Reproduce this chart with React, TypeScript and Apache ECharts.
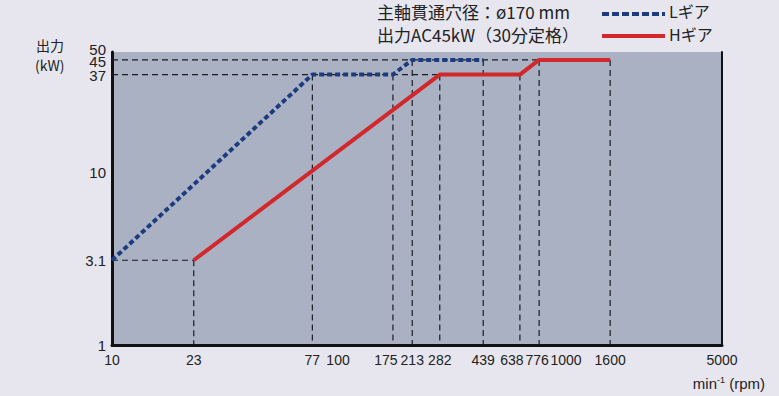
import React, { useEffect, useRef } from "react";
import * as echarts from "echarts";

// Spindle output: L gear and H gear, power (kW) against spindle speed (min^-1)
const lGearRpm = [10, 77, 175, 213, 439];
const lGearKw = [3.1, 37, 37, 45, 45];
const hGearRpm = [23, 282, 638, 776, 1600];
const hGearKw = [3.1, 37, 37, 45, 45];

const xTickValues = [10, 23, 77, 100, 175, 213, 282, 439, 638, 776, 1000, 1600, 5000];
const yTickValues = [1, 3.1, 10, 37, 50];
// labelled on an overlay axis, since it sits right under the 50 label
const yTickValuesCrowded = [45];

const X_MIN = 10;
const X_MAX = 5000;
const Y_MIN = 1;
const Y_MAX = 50;

const NUM_FONT = '"Liberation Sans", Roboto, sans-serif';
const JP_FONT = '"Noto Sans CJK JP", "Noto Sans", sans-serif';
const TEXT = "#222";
const L_COLOR = "#1d3c80";
const H_COLOR = "#d2282b";

// Small nudges (px) for tick labels that sit close together.
const speedLabelNudge: Record<string, number> = { "175": -7, "638": -8, "776": -2, "1000": 2 };
const powerLabelNudge: Record<string, number> = { "50": -3, "45": 2, "37": 1 };

const toPoints = (xs: number[], ys: number[]) => xs.map((x, i) => [x, ys[i]]);

// Dashed guides: a drop line under every corner of the curves, and a
// horizontal line from the power axis to where the H gear reaches each level.
function buildGuides(): number[][][] {
  const segs: number[][][] = [];
  const corners = [...toPoints(lGearRpm, lGearKw), ...toPoints(hGearRpm, hGearKw)];
  corners.forEach(([x, y]) => {
    if (x > X_MIN) segs.push([[x, y], [x, Y_MIN]]);
  });
  hGearRpm.forEach((x, i) => {
    const y = hGearKw[i];
    if (i === 0 || hGearKw[i - 1] < y) segs.push([[X_MIN, y], [x, y]]);
  });
  return segs;
}

// rich styles that shift a label by padding one side of its box
function nudgeStyles(nudges: Record<string, number>, vertical: boolean, fontSize: number) {
  const rich: Record<string, any> = {};
  Object.values(nudges).forEach((n) => {
    const key = (n < 0 ? "m" : "p") + Math.abs(n);
    const pad = Math.abs(n) * 2;
    rich[key] = {
      fontFamily: NUM_FONT,
      fontSize,
      color: TEXT,
      padding: vertical
        ? n < 0 ? [0, 0, pad, 0] : [pad, 0, 0, 0]
        : n < 0 ? [0, pad, 0, 0] : [0, 0, 0, pad],
    };
  });
  return rich;
}

const nudged = (text: string, nudges: Record<string, number>) => {
  const n = nudges[text];
  if (!n) return text;
  return `{${(n < 0 ? "m" : "p") + Math.abs(n)}|${text}}`;
};

const label = (text: string, left: number, top: number, font: string) => ({
  type: "text",
  left,
  top,
  style: { text, font, fill: TEXT },
});

const powerAxis = (values: number[], extra: any = {}) => ({
  type: "log",
  logBase: 10,
  min: Y_MIN,
  max: Y_MAX,
  axisTick: { show: false },
  splitLine: { show: false },
  axisLabel: {
    customValues: values,
    color: TEXT,
    fontSize: 15,
    fontFamily: NUM_FONT,
    margin: 6,
    hideOverlap: false,
    showMinLabel: true,
    showMaxLabel: true,
    formatter: (v: number) => nudged(String(Math.round(v * 10) / 10), powerLabelNudge),
    rich: nudgeStyles(powerLabelNudge, true, 15),
  },
  ...extra,
});

export default function App() {
  const ref = useRef<HTMLDivElement>(null);

  useEffect(() => {
    if (!ref.current) return;
    const chart = echarts.init(ref.current, null, { renderer: "svg" });

    const guideSeries = buildGuides().map((seg, i) => ({
      name: "guide" + i,
      type: "line",
      data: seg,
      symbol: "none",
      silent: true,
      z: 1,
      lineStyle: { color: "#1b1b22", width: 1.2, type: [6, 4] },
    }));

    const option: any = {
      animation: false,
      backgroundColor: "#e7e6ee",
      textStyle: { fontFamily: NUM_FONT },
      grid: {
        left: 112,
        right: 57,
        top: 52,
        bottom: 51,
        show: true,
        backgroundColor: "#aab1c3",
        borderWidth: 0,
      },
      graphic: [
        label("主軸貫通穴径：ø170 mm", 377, 3, `17px ${JP_FONT}`),
        label("出力AC45kW（30分定格）", 377, 26, `17px ${JP_FONT}`),
        // legend
        {
          type: "line",
          shape: { x1: 602, y1: 14, x2: 665, y2: 14 },
          style: { stroke: L_COLOR, lineWidth: 4, lineDash: [7, 3] },
        },
        {
          type: "line",
          shape: { x1: 602, y1: 36, x2: 665, y2: 36 },
          style: { stroke: H_COLOR, lineWidth: 4 },
        },
        label("Lギア", 669, 3, `16px ${JP_FONT}`),
        label("Hギア", 669, 26, `16px ${JP_FONT}`),
        // power axis name
        label("出力", 36, 38, `14px ${JP_FONT}`),
        label("(kW)", 35, 58, `14px ${JP_FONT}`),
        {
          type: "text",
          right: 14,
          top: 375,
          style: {
            text: "{a|min}{s|-1}{a| (rpm)}",
            rich: {
              a: { fontFamily: NUM_FONT, fontSize: 15, fill: TEXT, color: TEXT },
              s: {
                fontFamily: NUM_FONT,
                fontSize: 9,
                fill: TEXT,
                color: TEXT,
                verticalAlign: "top",
                padding: [0, 0, 8, 0],
              },
            },
          },
        },
      ],
      xAxis: {
        type: "log",
        logBase: 10,
        min: X_MIN,
        max: X_MAX,
        axisLine: { onZero: false, lineStyle: { color: "#111", width: 3 } },
        axisTick: { show: false },
        splitLine: { show: false },
        minorTick: { show: false },
        axisLabel: {
          customValues: xTickValues,
          color: TEXT,
          fontSize: 14,
          fontFamily: NUM_FONT,
          margin: 8,
          hideOverlap: false,
          showMinLabel: true,
          showMaxLabel: true,
          formatter: (v: number) => nudged(String(Math.round(v)), speedLabelNudge),
          rich: nudgeStyles(speedLabelNudge, false, 14),
        },
      },
      yAxis: [
        powerAxis(yTickValues, {
          axisLine: { onZero: false, lineStyle: { color: "#111", width: 3 } },
        }),
        powerAxis([], {
          position: "right",
          axisLine: { show: true, onZero: false, lineStyle: { color: "#111", width: 2 } },
          axisLabel: { show: false },
        }),
        powerAxis(yTickValuesCrowded, {
          position: "left",
          axisLine: { show: false },
        }),
      ],
      series: [
        ...guideSeries,
        {
          name: "Lギア",
          type: "line",
          data: toPoints(lGearRpm, lGearKw),
          symbol: "none",
          z: 3,
          lineStyle: { color: L_COLOR, width: 4, type: [5, 3] },
          itemStyle: { color: L_COLOR },
        },
        {
          name: "Hギア",
          type: "line",
          data: toPoints(hGearRpm, hGearKw),
          symbol: "none",
          z: 3,
          lineStyle: { color: H_COLOR, width: 4 },
          itemStyle: { color: H_COLOR },
        },
      ],
    };

    chart.setOption(option);
    return () => chart.dispose();
  }, []);

  return (
    <div
      ref={ref}
      style={{ position: "fixed", left: 0, top: 0, width: 779, height: 396 }}
    />
  );
}
